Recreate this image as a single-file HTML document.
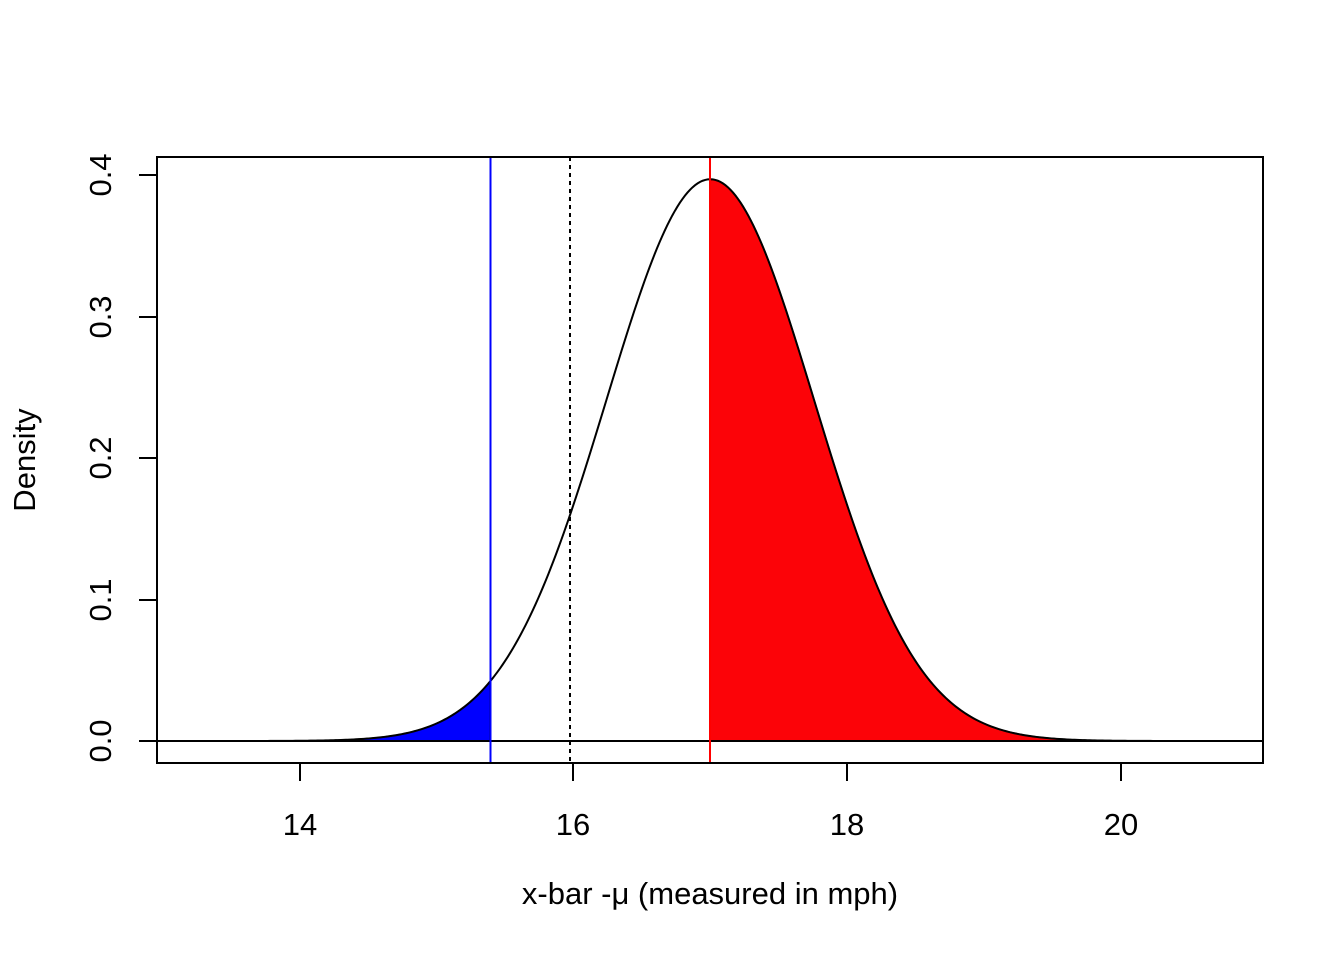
<!DOCTYPE html>
<html><head><meta charset="utf-8"><style>
body{margin:0;background:#fff}
svg{display:block}
text{font-family:"Liberation Sans",Arial,sans-serif;font-size:31px;fill:#000}
</style></head><body>
<svg id="s" width="1344" height="960" viewBox="0 0 1344 960" xmlns="http://www.w3.org/2000/svg">
<path id="blue" fill="#0000ff" stroke="#000" stroke-width="1.5"/>
<path id="red" fill="#fc0308" stroke="#000" stroke-width="1.5"/>
<path id="curve" fill="none" stroke="#000" stroke-width="2"/>
<line x1="157" y1="741" x2="1263" y2="741" stroke="#000" stroke-width="2"/>
<line x1="490.5" y1="157" x2="490.5" y2="763" stroke="#0000ff" stroke-width="2"/>
<line x1="570" y1="157" x2="570" y2="763" stroke="#000" stroke-width="2" stroke-dasharray="4,4"/>
<line x1="710" y1="157" x2="710" y2="763" stroke="#ff0000" stroke-width="2"/>
<rect x="157" y="157" width="1106" height="606" fill="none" stroke="#000" stroke-width="2"/>
<g stroke="#000" stroke-width="2">
<line x1="300" y1="763" x2="1121" y2="763"/>
<line x1="300" y1="763" x2="300" y2="781"/><line x1="573" y1="763" x2="573" y2="781"/>
<line x1="847" y1="763" x2="847" y2="781"/><line x1="1121" y1="763" x2="1121" y2="781"/>
<line x1="157" y1="175" x2="157" y2="741"/>
<line x1="139" y1="741" x2="157" y2="741"/><line x1="139" y1="600" x2="157" y2="600"/>
<line x1="139" y1="458" x2="157" y2="458"/><line x1="139" y1="317" x2="157" y2="317"/>
<line x1="139" y1="175" x2="157" y2="175"/>
</g>
<g text-anchor="middle">
<text x="300" y="835">14</text><text x="573" y="835">16</text>
<text x="847" y="835">18</text><text x="1121" y="835">20</text>
<text transform="translate(111,741) rotate(-90)">0.0</text>
<text transform="translate(111,600) rotate(-90)">0.1</text>
<text transform="translate(111,458) rotate(-90)">0.2</text>
<text transform="translate(111,317) rotate(-90)">0.3</text>
<text transform="translate(111,175) rotate(-90)">0.4</text>
<text x="710" y="904">x-bar -μ (measured in mph)</text>
<text transform="translate(35,460) rotate(-90)">Density</text>
</g>
</svg>
<script>
function X(x){return 300+(x-14)*136.75}
function Y(v){return 741-v*1415}
function f(x){return 0.397*Math.exp(-Math.pow(x-17,2)/(2*0.76*0.76))}
function pts(a,b){var s=[];for(var i=0;i<=400;i++){var x=a+(b-a)*i/400;s.push(X(x).toFixed(2)+","+Y(f(x)).toFixed(2))}return s}
document.getElementById('curve').setAttribute('d','M'+pts(13.3,20.7).join(' L'));
var b=pts(13.3,15.39);document.getElementById('blue').setAttribute('d','M'+X(13.3)+','+741+' L'+b.join(' L')+' L'+X(15.39)+',741 Z');
var r=pts(17,20.7);document.getElementById('red').setAttribute('d','M'+X(17)+',741 L'+r.join(' L')+' L'+X(20.7)+',741 Z');
</script>
</body></html>
